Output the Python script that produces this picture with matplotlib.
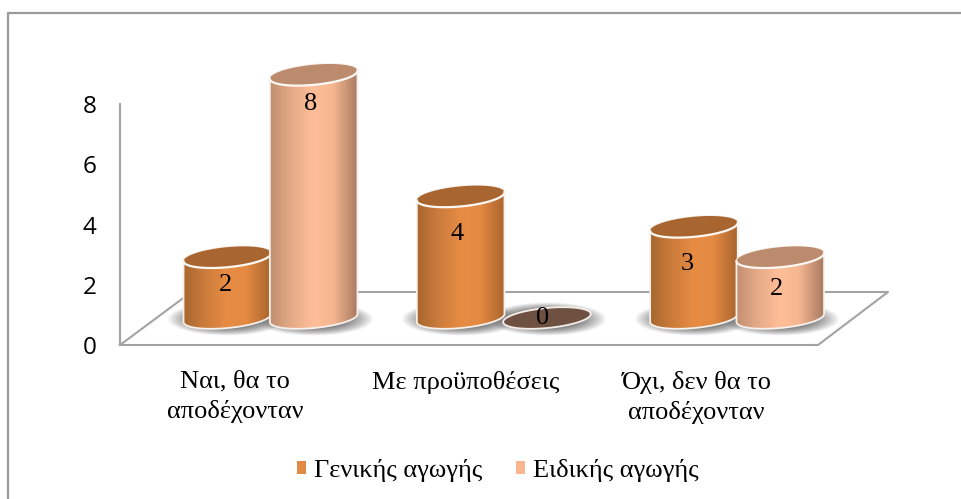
import numpy as np
import matplotlib
matplotlib.use('Agg')
import matplotlib.pyplot as plt
from matplotlib.lines import Line2D
from matplotlib.patches import Patch, Polygon
from matplotlib.transforms import Affine2D

categories = ['Ναι, θα το\nαποδέχονταν', 'Με προϋποθέσεις', 'Όχι, δεν θα το\nαποδέχονταν']
general = [2, 4, 3]
special = [8, 0, 2]
series_names = ['Γενικής αγωγής', 'Ειδικής αγωγής']
y_ticks = [0, 2, 4, 6, 8]

# value label placement in pixels: left shift, drop below the top of the cylinder
general_label_pos = [(2, 27.5), (4, 37.5), (7, 37.5)]
special_label_pos = [(3, 29.5), (4, 0), (4, 31.5)]

W, H = 962, 499
GRAY = '#A3A3A3'
SERIF = 'Liberation Serif'

# side shading of the cylinders, left to right
ORANGE = {'ramp': ['#A8662F', '#CC7C3C', '#E88C44', '#E48A43', '#A9642D'], 'top': '#A9652F', 'swatch': '#E08A45'}
PEACH = {'ramp': ['#C28F71', '#E6AC88', '#FFBE98', '#F5B690', '#A87A60'], 'top': '#BC8A6D', 'swatch': '#FBB591'}
RAMP_STOPS = [0, 0.25, 0.5, 0.72, 1]

PX_X = 233.3   # pixels per category
PX_Y = 30.4    # pixels per unit of value
BASE_Y = 318
CENTER0 = 270.5
HALF_W = 44
HALF_H = 10
TILT = np.radians(5.5)

fig = plt.figure(figsize=(W / 100, H / 100), dpi=100, facecolor='white')
to_px = Affine2D().scale(1, -1).translate(0, H)

# chart frame: left and top edges only
fig.add_artist(Line2D([8, 8, W], [H, 13, 13], color='#9A9A9A', lw=1.6, transform=to_px, zorder=-1))

# back wall axis with the value and category labels
wall = fig.add_axes([120 / W, (H - 345) / H, 692 / W, 241 / H], facecolor='none')
wall.set_ylim(0, 8)
wall.set_xlim(-0.5, 2.5)
wall.set_yticks(y_ticks)
wall.set_xticks(range(len(categories)))
wall.set_xticklabels(categories, family=SERIF, fontsize=19, linespacing=1.42)
wall.tick_params(axis='x', length=0, pad=18.5)
wall.tick_params(axis='y', length=0, pad=17, labelsize=17.5)
for lab in wall.get_yticklabels():
    lab.set_family('Open Sans')
for side in ['top', 'right']:
    wall.spines[side].set_visible(False)
for side in ['left', 'bottom']:
    wall.spines[side].set_color(GRAY)
    wall.spines[side].set_linewidth(1.5)

# floor outline, behind the cylinders
fig.add_artist(Line2D([120, 186], [345, 296], color=GRAY, lw=1.5, transform=to_px, zorder=-1))
fig.add_artist(Line2D([186, 888, 818, 812], [292, 292, 345, 345], color=GRAY, lw=1.5, transform=to_px, zorder=-1))

# cylinders live on a transparent axes covering the whole figure
ax = fig.add_axes([0, 0, 1, 1], facecolor='none')
ax.axis('off')
xlim = (-CENTER0 / PX_X, (W - CENTER0) / PX_X)
ylim = ((BASE_Y - H) / PX_Y, BASE_Y / PX_Y)


def ellipse(xc, val, t):
    ex = HALF_W * np.cos(t)
    ey = HALF_H * np.sin(t)
    px = ex * np.cos(TILT) - ey * np.sin(TILT)
    py = ex * np.sin(TILT) + ey * np.cos(TILT)
    return np.column_stack([xc + px / PX_X, val + py / PX_Y])


def shadow(xc):
    xx, yy = np.meshgrid(np.linspace(-1, 1, 200), np.linspace(-1, 1, 60))
    r = np.sqrt(xx ** 2 + yy ** 2)
    rgba = np.zeros((60, 200, 4))
    rgba[..., :3] = 0.36
    rgba[..., 3] = 0.8 * np.clip(1.35 * (1 - r ** 2), 0, 1)
    half_w, half_h = 60 / PX_X, 17 / PX_Y
    dy = -1 / PX_Y
    ax.imshow(rgba, extent=(xc - half_w, xc + half_w, dy - half_h, dy + half_h),
              aspect='auto', interpolation='bilinear', zorder=1)


def cylinder(xc, val, style, label_pos, order):
    shadow(xc)
    if val == 0:
        ax.add_patch(Polygon(ellipse(xc, 0, np.linspace(0, 2 * np.pi, 90)), fc='#6F5141', ec='#F4EEEA',
                             lw=1.3, zorder=order))
    else:
        lower = ellipse(xc, 0, np.linspace(np.pi, 2 * np.pi, 60))
        upper = ellipse(xc, val, np.linspace(0, np.pi, 60))
        cmap = matplotlib.colors.LinearSegmentedColormap.from_list('side', list(zip(RAMP_STOPS, style['ramp'])))
        grad = ax.imshow(np.linspace(0, 1, 128)[None, :], cmap=cmap, aspect='auto',
                         extent=(xc - HALF_W / PX_X, xc + HALF_W / PX_X, -1, val + 1), zorder=order)
        body = Polygon(np.vstack([lower, upper]), fc='none', ec='#F6F1EC', lw=1.3, zorder=order + 0.1)
        ax.add_patch(body)
        grad.set_clip_path(body)
        ax.add_patch(Polygon(ellipse(xc, val, np.linspace(0, 2 * np.pi, 90)), fc=style['top'],
                             ec='none', zorder=order + 0.2))
        # only the front rim of the top is lit
        rim = ellipse(xc, val, np.linspace(np.pi, 2 * np.pi, 60))
        ax.plot(rim[:, 0], rim[:, 1], color='#FBF8F4', lw=1.6, zorder=order + 0.3)
    ax.annotate(str(val), (xc, val), xytext=(-label_pos[0] * 0.72, -label_pos[1] * 0.72),
                textcoords='offset points', ha='center', va='center', family=SERIF, fontsize=19,
                color='black', zorder=20)


order = 2
for i in range(len(categories)):
    cylinder(i - 0.185, general[i], ORANGE, general_label_pos[i], order)
    cylinder(i + 0.185, special[i], PEACH, special_label_pos[i], order + 1)
    order += 2

ax.set_xlim(xlim)
ax.set_ylim(ylim)

handles = [Patch(fc=ORANGE['swatch'], ec='none'), Patch(fc=PEACH['swatch'], ec='none')]
ax.legend(handles, series_names, loc='center', bbox_to_anchor=(498 / W, 1 - 470 / H), ncol=2, frameon=False,
          prop={'family': SERIF, 'size': 19}, handlelength=0.34, handleheight=0.38, handletextpad=0.3,
          columnspacing=1.29)

fig.savefig('out.png', dpi=100)
